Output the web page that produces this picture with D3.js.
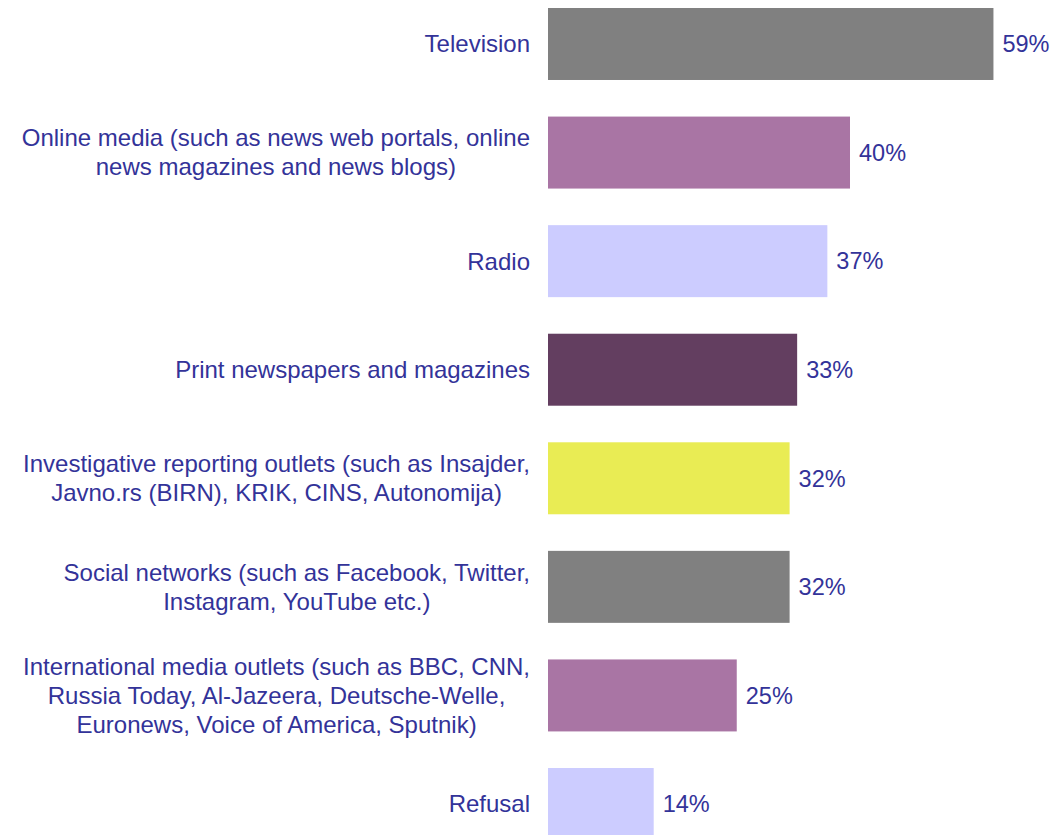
<!DOCTYPE html>
<html>
<head>
<meta charset="utf-8">
<script src="https://cdn.jsdelivr.net/npm/d3@7"></script>
<style>
  html, body { margin: 0; padding: 0; background: #ffffff; }
  svg { display: block; }
  text { font-family: "Liberation Sans", Arial, sans-serif; fill: #333399; }
</style>
</head>
<body>
<svg id="chart" width="1055" height="835"></svg>
<script>
// Media sources, one entry per bar (label lines as shown)
const categories = [
  ["Television"],
  ["Online media (such as news web portals, online", "news magazines and news blogs)"],
  ["Radio"],
  ["Print newspapers and magazines"],
  ["Investigative reporting outlets (such as Insajder,", "Javno.rs (BIRN), KRIK, CINS, Autonomija)"],
  ["Social networks (such as Facebook, Twitter,", "Instagram, YouTube etc.)"],
  ["International media outlets (such as BBC, CNN,", "Russia Today, Al-Jazeera, Deutsche-Welle,", "Euronews, Voice of America, Sputnik)"],
  ["Refusal"]
];
const values = [59, 40, 37, 33, 32, 32, 25, 14];
const colors = ["#808080", "#a975a4", "#ccccff", "#633e60", "#e9ec54", "#808080", "#a975a4", "#ccccff"];

const svg = d3.select("#chart");
const idx = d3.range(values.length);

const x = d3.scaleLinear().domain([0, 100]).range([548, 1303]);
const y = d3.scaleBand().domain(idx).range([8, 840]).paddingInner(0.337).paddingOuter(0);

svg.selectAll("rect.bar")
  .data(idx)
  .join("rect")
  .attr("class", "bar")
  .attr("x", x(0))
  .attr("y", i => y(i))
  .attr("width", i => x(values[i]) - x(0))
  .attr("height", y.bandwidth())
  .attr("fill", i => colors[i]);

// value labels
svg.selectAll("text.val")
  .data(idx)
  .join("text")
  .attr("class", "val")
  .attr("x", i => x(values[i]) + 9)
  .attr("y", i => y(i) + y.bandwidth() / 2)
  .attr("dy", "0.35em")
  .style("font-size", "23.5px")
  .text(i => values[i] + "%");

// category labels, centred as a block whose right edge sits at x=530
const lineH = 29;
const cats = svg.selectAll("text.cat")
  .data(idx)
  .join("text")
  .attr("class", "cat")
  .attr("text-anchor", "middle")
  .style("font-size", "24px");

cats.each(function(i) {
  const lines = categories[i];
  const t = d3.select(this);
  const cy = y(i) + y.bandwidth() / 2;
  const startY = cy - (lines.length - 1) * lineH / 2;
  lines.forEach((ln, k) => {
    t.append("tspan")
      .attr("x", 0)
      .attr("y", startY + k * lineH)
      .attr("dy", "0.35em")
      .text(ln);
  });
});

cats.each(function() {
  const bb = this.getBBox();
  d3.select(this).attr("transform", `translate(${530 - bb.x - bb.width},0)`);
});
</script>
</body>
</html>
